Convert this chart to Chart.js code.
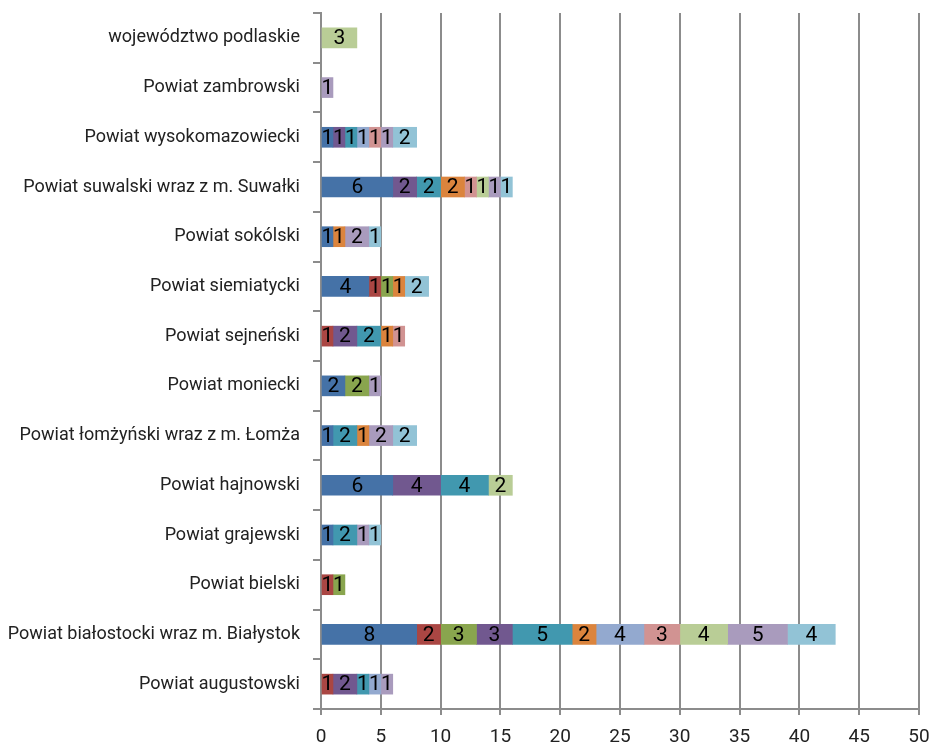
<!DOCTYPE html>
<html>
<head>
<meta charset="utf-8">
<script src="https://cdn.jsdelivr.net/npm/chart.js@4/dist/chart.umd.min.js"></script>
<style>
html,body{margin:0;padding:0;background:#fff;}
#wrap{width:931px;height:747px;}
</style>
</head>
<body>
<div id="wrap"><canvas id="c" width="931" height="747"></canvas></div>
<script>
const categories = [
  "województwo podlaskie",
  "Powiat zambrowski",
  "Powiat wysokomazowiecki",
  "Powiat suwalski wraz z m. Suwałki",
  "Powiat sokólski",
  "Powiat siemiatycki",
  "Powiat sejneński",
  "Powiat moniecki",
  "Powiat łomżyński wraz z m. Łomża",
  "Powiat hajnowski",
  "Powiat grajewski",
  "Powiat bielski",
  "Powiat białostocki wraz m. Białystok",
  "Powiat augustowski"
];
const s1  = [null,null,1,6,1,4,null,2,1,6,1,null,8,null];
const s2  = [null,null,null,null,null,1,1,null,null,null,null,1,2,1];
const s3  = [null,null,null,null,null,1,null,2,null,null,null,1,3,null];
const s4  = [null,null,1,2,null,null,2,null,null,4,null,null,3,2];
const s5  = [null,null,1,2,null,null,2,null,2,4,2,null,5,1];
const s6  = [null,null,null,2,1,1,1,null,1,null,null,null,2,null];
const s7  = [null,null,1,null,null,null,null,null,null,null,null,null,4,1];
const s8  = [null,null,1,1,null,null,1,null,null,null,null,null,3,null];
const s9  = [3,null,null,1,null,null,null,null,null,2,null,null,4,null];
const s10 = [null,1,1,1,2,null,null,1,2,null,1,null,5,1];
const s11 = [null,null,2,1,1,2,null,null,2,null,1,null,4,null];
const xTicks = [0,5,10,15,20,25,30,35,40,45,50];

const series = [s1,s2,s3,s4,s5,s6,s7,s8,s9,s10,s11];
const colors = ["#4572A7","#AA4643","#89A54E","#71588F","#4198AF","#DB843D","#93A9CF","#D19392","#B9CD96","#A99BBD","#92C3D6"];

const FONT = "Roboto, 'Liberation Sans', sans-serif";

const labelPlugin = {
  id: 'segLabels',
  afterDatasetsDraw(chart) {
    const ctx = chart.ctx;
    ctx.save();
    ctx.font = "21px " + FONT;
    ctx.fillStyle = "#000";
    ctx.textAlign = "center";
    ctx.textBaseline = "middle";
    chart.data.datasets.forEach((ds, di) => {
      const meta = chart.getDatasetMeta(di);
      meta.data.forEach((el, i) => {
        const v = ds.data[i];
        if (v === null || v === undefined) return;
        const cx = (el.x + el.base) / 2;
        ctx.fillText(String(v), cx, el.y + 1);
      });
    });
    ctx.restore();
  }
};

new Chart(document.getElementById('c'), {
  type: 'bar',
  data: {
    labels: categories,
    datasets: series.map((d, i) => ({
      label: 'Seria ' + (i + 1),
      data: d,
      backgroundColor: colors[i],
      borderWidth: 0,
      barThickness: 20
    }))
  },
  options: {
    indexAxis: 'y',
    responsive: false,
    animation: false,
    layout: { padding: { top: 13, right: 12, bottom: 0, left: 0 } },
    plugins: { legend: { display: false }, tooltip: { enabled: false } },
    scales: {
      x: {
        stacked: true,
        min: 0, max: 50,
        afterBuildTicks(scale) { scale.ticks = xTicks.map(v => ({ value: v })); },
        afterFit(scale) { scale.height = 38; scale.paddingLeft = 0; scale.paddingRight = 0; },
        grid: { color: "#8c8c8c", lineWidth: 2, drawTicks: true, tickLength: 6 },
        border: { color: "#8c8c8c", width: 2 },
        ticks: { color: "#222", font: { family: FONT, size: 19 }, padding: 11 }
      },
      y: {
        stacked: true,
        afterFit(scale) { scale.width = 321; scale.paddingTop = 0; scale.paddingBottom = 0; },
        grid: { drawOnChartArea: false, color: "#8c8c8c", lineWidth: 2, tickLength: 8, offset: true },
        border: { color: "#8c8c8c", width: 2 },
        ticks: { color: "#222", font: { family: FONT, size: 18 }, padding: 13 }
      }
    }
  },
  plugins: [labelPlugin]
});
</script>
</body>
</html>
